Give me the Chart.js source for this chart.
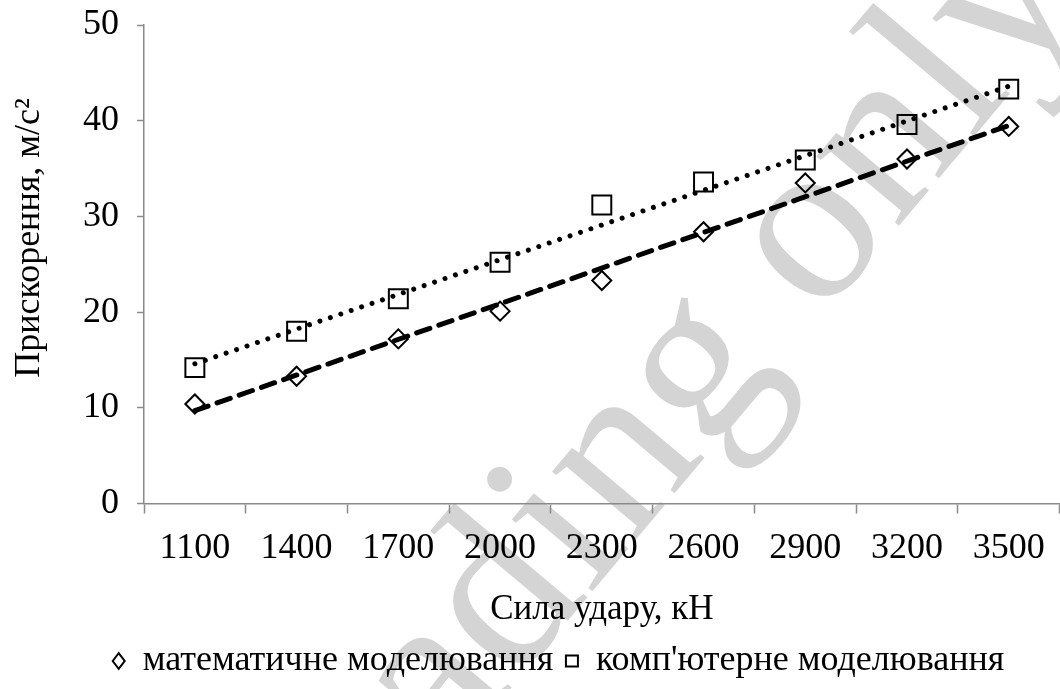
<!DOCTYPE html>
<html>
<head>
<meta charset="utf-8">
<script src="https://cdn.jsdelivr.net/npm/chart.js@4"></script>
<style>
    html, body { margin: 0; padding: 0; background: #fff; overflow: hidden; }
    #wrap { width: 1075px; height: 689px; }
</style>
</head>
<body>
<div id="wrap"><canvas id="accel_chart" width="1075" height="689"></canvas></div>
<script>
// values
var forces = ['1100', '1400', '1700', '2000', '2300', '2600', '2900', '3200', '3500'];
var mathModel = [10.4, 13.3, 17.2, 20.1, 23.3, 28.4, 33.5, 36.0, 39.4];
var compModel = [14.2, 18.0, 21.4, 25.2, 31.2, 33.6, 35.9, 39.6, 43.3];
// trend lines, value at first and last category
var mathTrend = [9.7, 39.5];
var compTrend = [14.6, 43.6];

var serif = 'Liberation Serif';
var yTitle = 'Прискорення, м/с²';

// "for reading only" stamp under the chart
var stampPlugin = {
    id: 'stamp',
    beforeDraw: function(chart) {
        var ctx = chart.ctx;
        ctx.save();
        ctx.translate(820, 320);
        ctx.rotate(-50 * Math.PI / 180);
        ctx.font = '235px "' + serif + '"';
        ctx.fillStyle = '#d4d4d4';
        ctx.textAlign = 'left';
        ctx.textBaseline = 'alphabetic';
        var before = ctx.measureText('For reading ').width;
        ctx.fillText('For reading only', -before, 0);
        ctx.restore();
    }
};

// y axis title, a bit above the middle like the original
var yTitlePlugin = {
    id: 'ytitle',
    afterDraw: function(chart) {
        var ctx = chart.ctx;
        ctx.save();
        ctx.translate(39, 238);
        ctx.rotate(-Math.PI / 2);
        ctx.font = '36px "' + serif + '"';
        ctx.fillStyle = '#000';
        ctx.textAlign = 'center';
        ctx.textBaseline = 'alphabetic';
        ctx.fillText(yTitle, 0, 0);
        ctx.restore();
    }
};

var ctx = document.getElementById('accel_chart').getContext('2d');
var accelChart = new Chart(ctx, {
    type: 'line',
    data: {
        labels: forces,
        datasets: [{
            label: 'математичне моделювання',
            data: mathModel,
            showLine: false,
            pointStyle: 'rectRot',
            pointRadius: 9.5,
            pointHoverRadius: 9.5,
            pointBorderWidth: 2,
            borderWidth: 1.5,
            borderColor: '#000',
            pointBorderColor: '#000',
            backgroundColor: 'rgba(0,0,0,0)',
            pointBackgroundColor: 'rgba(0,0,0,0)'
        }, {
            label: "комп'ютерне моделювання",
            data: compModel,
            showLine: false,
            pointStyle: 'rect',
            pointRadius: 13.4,
            pointHoverRadius: 13.4,
            pointBorderWidth: 2,
            borderWidth: 1.5,
            borderColor: '#000',
            pointBorderColor: '#000',
            backgroundColor: 'rgba(0,0,0,0)',
            pointBackgroundColor: 'rgba(0,0,0,0)'
        }, {
            label: 'trend_math',
            data: [{x: forces[0], y: mathTrend[0]}, {x: forces[forces.length - 1], y: mathTrend[1]}],
            borderColor: '#000',
            borderWidth: 5,
            borderDash: [14, 9.5],
            borderCapStyle: 'round',
            pointRadius: 0,
            fill: false
        }, {
            label: 'trend_comp',
            data: [{x: forces[0], y: compTrend[0]}, {x: forces[forces.length - 1], y: compTrend[1]}],
            borderColor: '#000',
            borderWidth: 5,
            borderDash: [0.01, 11],
            borderCapStyle: 'round',
            pointRadius: 0,
            fill: false
        }]
    },
    options: {
        responsive: false,
        animation: false,
        layout: {
            padding: {left: 50, right: 8, top: 0, bottom: 0}
        },
        plugins: {
            tooltip: {enabled: false},
            legend: {
                position: 'bottom',
                labels: {
                    usePointStyle: true,
                    boxHeight: 11,
                    pointStyleWidth: 12,
                    padding: 12.5,
                    color: '#000',
                    font: {family: serif, size: 36},
                    filter: function(item) {
                        return item.text.indexOf('trend') !== 0;
                    }
                }
            }
        },
        scales: {
            x: {
                offset: true,
                grid: {
                    offset: true,
                    drawOnChartArea: false,
                    drawTicks: true,
                    tickLength: 10,
                    tickColor: '#8a8a8a',
                    tickWidth: 1.5
                },
                border: {display: true, color: '#8a8a8a', width: 1.5},
                ticks: {
                    color: '#000',
                    padding: 13,
                    maxRotation: 0,
                    autoSkip: false,
                    font: {family: serif, size: 36}
                },
                title: {
                    display: true,
                    text: 'Сила удару, кН',
                    color: '#000',
                    padding: {top: 0, bottom: 0},
                    font: {family: serif, size: 35}
                },
                afterFit: function(scale) {
                    scale.height = 127;
                }
            },
            y: {
                min: 0,
                max: 50,
                ticks: {
                    stepSize: 10,
                    color: '#000',
                    padding: 18,
                    font: {family: serif, size: 36, lineHeight: 0.39}
                },
                grid: {
                    drawOnChartArea: false,
                    drawTicks: true,
                    tickLength: 7,
                    tickColor: '#8a8a8a',
                    tickWidth: 1.5
                },
                border: {display: true, color: '#8a8a8a', width: 1.5},
                afterFit: function(scale) {
                    scale.width = 94;
                }
            }
        }
    },
    plugins: [stampPlugin, yTitlePlugin]
});
</script>
</body>
</html>
